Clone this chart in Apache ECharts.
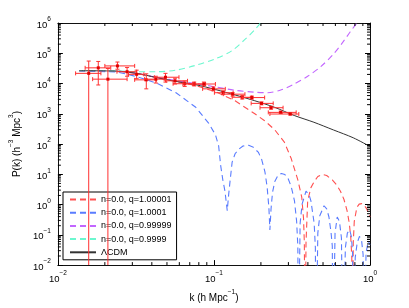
<!DOCTYPE html>
<html><head><meta charset="utf-8">
<script src="https://cdn.jsdelivr.net/npm/echarts@6/dist/echarts.min.js"></script>
<style>html,body{margin:0;padding:0;background:#fff}#c{width:409px;height:308px}</style>
</head><body><div id="c"></div>
<script>
// ---- measured data points (k, P) with error bars ----
const dataK = [0.01576, 0.01815, 0.02092, 0.02408, 0.02776, 0.03197, 0.03686, 0.04244, 0.04893, 0.05633, 0.06495, 0.07477, 0.08621, 0.09926, 0.1145, 0.1318, 0.1519, 0.1749, 0.2017, 0.2322, 0.2678, 0.3083];
const dataP = [21680, 33000, 13930, 38200, 24570, 20140, 13230, 13930, 16140, 12290, 9854, 9638, 9640, 6668, 4966, 4446, 3512, 3436, 2208, 1585, 1113, 982];
const kLow  = [0.01299, 0.01495, 0.01670, 0.02000, 0.02391, 0.02834, 0.03105, 0.03592, 0.04152, 0.04943, 0.05473, 0.06328, 0.07318, 0.08462, 0.1007, 0.1148, 0.1308, 0.1513, 0.1732, 0.1974, 0.2230, 0.2283];
const kHigh = [0.01887, 0.02182, 0.02776, 0.03105, 0.03197, 0.03555, 0.04275, 0.04801, 0.05970, 0.06774, 0.07534, 0.08840, 0.1022, 0.1182, 0.1327, 0.1580, 0.1749, 0.2113, 0.2398, 0.2773, 0.3364, 0.3499];
const pLow  = [0.0001, 8954, 0.0001, 29760, 17380, 14450, 6668, 10380, 11170, 9638, 8017, 8318, 8318, 5754, 4285, 3837, 3076, 3076, 1977, 1419, 1019, 912];
const pHigh = [55260, 53650, 31330, 51330, 33730, 27640, 20890, 17380, 21680, 15000, 12020, 11170, 11170, 7727, 5754, 4966, 3981, 3837, 2466, 1770, 1225, 1057];

// ---- model curves ----
const lcdmK = [0.0137, 0.02391, 0.03197, 0.04275, 0.05715, 0.07644, 0.1022, 0.1366, 0.1827, 0.2443, 0.3268, 0.4370, 0.5843, 0.7812, 1.0];
const lcdmP = [26450, 25680, 21680, 15790, 11760, 9155, 6332, 4192, 2694, 1644, 879, 525, 291, 161, 83.2];

const redK = [0.0137, 0.02391, 0.03197, 0.04275, 0.05715, 0.07644, 0.1022, 0.1366, 0.1827, 0.2113, 0.2443, 0.2826, 0.3128, 0.3448, 0.3655, 0.3751, 0.3796, 0.3834, 0.3890, 0.3987, 0.4183, 0.4389, 0.4631, 0.4958, 0.5278, 0.5733, 0.6103, 0.6467, 0.6805, 0.7129, 0.7371, 0.7534, 0.7644, 0.7699, 0.7812, 0.7927, 0.8243, 0.8522, 0.8862, 0.9165, 0.9532, 1.0];
const redP = [26450, 25680, 21680, 15790, 11590, 8630, 5346, 2694, 1004, 586, 302, 116, 33.1, 6.55, 1.74, 0.344, 0.0545, 1e-5, 0.0545, 1.323, 3.63, 5.776, 8.47, 9.96, 9.12, 6.55, 4.53, 2.764, 1.50, 0.633, 0.238, 0.0787, 0.018, 1e-5, 0.0545, 0.275, 0.814, 1.037, 1.076, 0.964, 0.718, 0.389];

const blueK = [0.0137, 0.02391, 0.03197, 0.04275, 0.05715, 0.07644, 0.09272, 0.1022, 0.1072, 0.1104, 0.1140, 0.1177, 0.1199, 0.1217, 0.1243, 0.1271, 0.1308, 0.1366, 0.1442, 0.1535, 0.1668, 0.1775, 0.1929, 0.2023, 0.2122, 0.2191, 0.2249, 0.2283, 0.2322, 0.2373, 0.2454, 0.2571, 0.2705, 0.2847, 0.2982, 0.3128, 0.3282, 0.3388, 0.3448, 0.3479, 0.3566, 0.3671, 0.3890, 0.4063, 0.4183, 0.4389, 0.4466, 0.4510, 0.4631, 0.4767, 0.5075, 0.5278, 0.5457, 0.5634, 0.5733, 0.5800, 0.5970, 0.6165, 0.6374, 0.6561, 0.6706, 0.6954, 0.7159, 0.7403, 0.7588, 0.7733, 0.7812, 0.8043, 0.8279, 0.8559, 0.8838, 0.9032, 0.9165, 0.9436, 0.9757, 1.0];
const blueP = [26060, 24210, 17000, 10380, 4966, 1644, 480, 204, 86.3, 19.8, 6.55, 2.764, 1.20, 0.633, 2.168, 6.55, 25.2, 47.9, 67.7, 86.3, 90.9, 80.2, 52.7, 30.8, 12.06, 3.91, 0.814, 0.145, 0.718, 2.51, 5.776, 9.12, 10.7, 9.82, 7.42, 3.91, 1.323, 0.275, 0.0427, 1e-5, 0.238, 1.037, 2.764, 2.168, 1.323, 0.238, 0.0377, 1e-5, 0.114, 0.429, 0.915, 0.718, 0.389, 0.114, 0.0427, 1e-5, 0.114, 0.389, 0.275, 0.0787, 1e-5, 0.0377, 0.114, 0.145, 0.0912, 0.0261, 1e-5, 0.018, 0.0545, 0.0892, 0.0631, 0.0225, 1e-5, 0.0261, 0.0617, 0.047];

const purpleK = [0.0137, 0.02391, 0.03197, 0.04275, 0.05715, 0.07644, 0.1022, 0.1366, 0.1827, 0.2207, 0.2705, 0.3268, 0.3987, 0.4837, 0.5843, 0.6756, 0.7478, 0.8219, 0.8902];
const purpleP = [26450, 25680, 21680, 16140, 12470, 10000, 7727, 5970, 5152, 4966, 6194, 9638, 17380, 36310, 94620, 246600, 515200, 1000000, 2090000];

const cyanK = [0.0137, 0.02391, 0.03197, 0.04275, 0.05715, 0.07644, 0.1022, 0.1302, 0.1580, 0.1827, 0.2014, 0.2175];
const cyanP = [26450, 26060, 24570, 24570, 27640, 39960, 65460, 120700, 285800, 597000, 1100000, 1940000];

const names = ['n=0.0, q=1.00001', 'n=0.0, q=1.0001', 'n=0.0, q=0.99999', 'n=0.0, q=0.9999', 'ΛCDM'];
const xMin = 0.01, xMax = 1, yMin = 0.01, yMax = 1e6;

// ---- build ----
const FONT = 'Liberation Sans';
const zip = (a, b) => a.map((v, i) => [v, b[i]]);
const errData = dataK.map((k, i) => [k, dataP[i], kLow[i], kHigh[i], pLow[i], pHigh[i]]);
const xMinor = []; [0.01, 0.1].forEach(d => { for (let m = 2; m <= 9; m++) xMinor.push(m * d); });
const yMinor = []; for (let e = -2; e <= 5; e++) for (let m = 2; m <= 9; m++) yMinor.push(m * Math.pow(10, e));

const supFmt = v => '{b|10}{s|' + String(Math.round(Math.log10(v))).replace('-', '−') + '}';
const rich = {
  b: { fontSize: 9.5, lineHeight: 14, verticalAlign: 'bottom', color: '#000', fontFamily: FONT },
  s: { fontSize: 6.5, lineHeight: 6, verticalAlign: 'top', color: '#000', fontFamily: FONT }
};
const nameRich = {
  b: { fontSize: 10, lineHeight: 14, verticalAlign: 'bottom', color: '#000', fontFamily: FONT },
  s: { fontSize: 6.5, lineHeight: 6, verticalAlign: 'top', color: '#000', fontFamily: FONT }
};

function axisBase(extra) {
  return Object.assign({
    type: 'log', logBase: 10,
    axisLine: { show: true, lineStyle: { color: '#111', width: 1 } },
    axisTick: { show: true, inside: true, length: 5, lineStyle: { color: '#000', width: 1 } },
    splitLine: { show: false },
    minorTick: { show: false }
  }, extra);
}

function line(x1, y1, x2, y2, color) {
  return { type: 'line', shape: { x1, y1, x2, y2 }, style: { stroke: color || '#000', lineWidth: 1 } };
}

function renderMinor(params, api) {
  const a = api.coord([xMin, yMin]);
  const b = api.coord([xMax, yMax]);
  const ch = [];
  xMinor.forEach(v => {
    const x = api.coord([v, yMin])[0];
    ch.push(line(x, a[1], x, a[1] - 3));
    ch.push(line(x, b[1], x, b[1] + 3));
  });
  yMinor.forEach(v => {
    const y = api.coord([xMin, v])[1];
    ch.push(line(a[0], y, a[0] + 3, y));
    ch.push(line(b[0], y, b[0] - 3, y));
  });
  return { type: 'group', children: ch };
}

const errColor = '#ff3030';
function renderErr(params, api) {
  const k = api.value(0), p = api.value(1);
  const c = api.coord([k, p]);
  const l = api.coord([api.value(2), p]);
  const r = api.coord([api.value(3), p]);
  const lo = api.coord([k, api.value(4)]);
  const hi = api.coord([k, api.value(5)]);
  const cap = 2;
  return {
    type: 'group', children: [
      line(l[0], c[1], r[0], c[1], errColor),
      line(c[0], hi[1], c[0], lo[1], errColor),
      line(c[0] - cap, hi[1], c[0] + cap, hi[1], errColor),
      line(c[0] - cap, lo[1], c[0] + cap, lo[1], errColor),
      line(l[0], c[1] - cap, l[0], c[1] + cap, errColor),
      line(r[0], c[1] - cap, r[0], c[1] + cap, errColor),
      { type: 'rect', shape: { x: c[0] - 1.5, y: c[1] - 1.5, width: 3, height: 3 }, style: { fill: '#e00000' } }
    ]
  };
}

const dash = [6, 4];
const chart = echarts.init(document.getElementById('c'), null, { renderer: 'canvas' });
chart.setOption({
  animation: false,
  backgroundColor: '#fff',
  textStyle: { fontFamily: FONT },
  grid: { left: 53, right: 39, top: 23, bottom: 35, containLabel: false },
  legend: {
    orient: 'vertical', left: 63, top: 192,
    data: names,
    itemWidth: 26, itemHeight: 13, itemGap: 0.2,
    padding: [1, 5, 1, 6],
    borderColor: '#000', borderWidth: 1, borderRadius: 0, backgroundColor: '#fff',
    itemStyle: { opacity: 0, borderWidth: 0 },
    textStyle: { fontSize: 9, lineHeight: 13, color: '#000', fontFamily: FONT },
    selectedMode: false
  },
  xAxis: [
    axisBase({
      position: 'bottom', min: xMin, max: xMax, splitNumber: 2,
      axisLabel: { formatter: supFmt, rich, margin: 5 },
      name: '{b|k (h Mpc}{s|−1}{b|)}', nameLocation: 'middle', nameGap: 18,
      nameTextStyle: { rich: nameRich }
    }),
    axisBase({ position: 'top', min: xMin, max: xMax, splitNumber: 2, axisLabel: { show: false } })
  ],
  yAxis: [
    axisBase({
      position: 'left', min: yMin, max: yMax, splitNumber: 8,
      axisLabel: { formatter: supFmt, rich, margin: 7 },
      name: '{b|P(k) (h}{s|−3}{b| Mpc}{s|3}{b|)}', nameLocation: 'middle', nameGap: 18,
      nameTextStyle: { rich: nameRich }
    }),
    axisBase({ position: 'right', min: yMin, max: yMax, splitNumber: 8, axisLabel: { show: false } })
  ],
  series: [
    { name: names[0], type: 'line', data: zip(redK, redP), symbol: 'none', showSymbol: false, z: 2,
      lineStyle: { color: '#ff5050', width: 1.1, type: dash }, itemStyle: { color: '#ff5050' } },
    { name: names[1], type: 'line', data: zip(blueK, blueP), symbol: 'none', showSymbol: false, z: 2,
      lineStyle: { color: '#5a7cff', width: 1.1, type: dash }, itemStyle: { color: '#5a7cff' } },
    { name: names[2], type: 'line', data: zip(purpleK, purpleP), symbol: 'none', showSymbol: false, z: 2, smooth: 0.3,
      lineStyle: { color: '#c266ff', width: 1.1, type: dash }, itemStyle: { color: '#c266ff' } },
    { name: names[3], type: 'line', data: zip(cyanK, cyanP), symbol: 'none', showSymbol: false, z: 2, smooth: 0.3,
      lineStyle: { color: '#6cf7cf', width: 1.1, type: dash }, itemStyle: { color: '#6cf7cf' } },
    { name: names[4], type: 'line', data: zip(lcdmK, lcdmP), symbol: 'none', showSymbol: false, z: 3, smooth: 0.3,
      lineStyle: { color: '#333', width: 1, type: 'solid' }, itemStyle: { color: '#333' } },
    { name: 'data', type: 'custom', renderItem: renderErr, data: errData, clip: true, z: 4,
      encode: { x: [0, 2, 3], y: [1, 4, 5] }, silent: true },
    { name: 'minorTicks', type: 'custom', renderItem: renderMinor, data: [[xMin, yMin]], clip: false, z: 5, silent: true }
  ]
});
</script></body></html>
